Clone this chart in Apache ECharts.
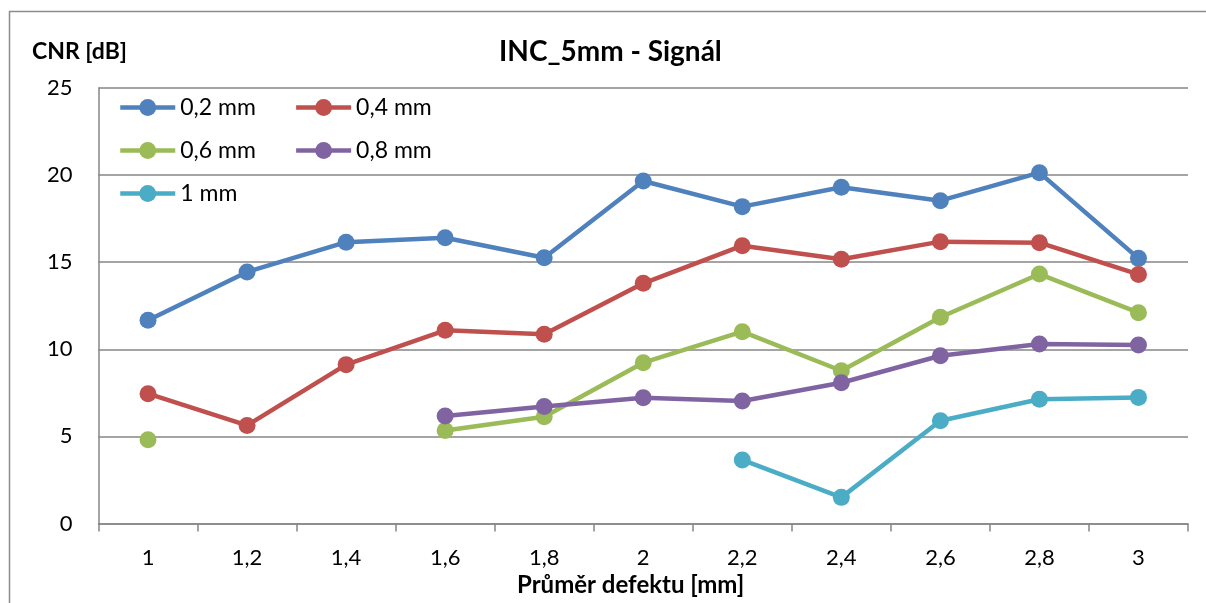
<!DOCTYPE html>
<html>
<head>
<meta charset="utf-8">
<script src="https://cdn.jsdelivr.net/npm/echarts@6/dist/echarts.min.js"></script>
<style>
  html, body { margin: 0; padding: 0; background: #ffffff; }
  #chart { width: 1206px; height: 603px; }
</style>
</head>
<body>
<div id="chart"></div>
<script>
// Defect diameters on the category axis
const categories = ['1', '1,2', '1,4', '1,6', '1,8', '2', '2,2', '2,4', '2,6', '2,8', '3'];

// CNR values [dB] per inclusion size; null = no measurement
const cnr02 = [11.67, 14.44, 16.15, 16.40, 15.26, 19.66, 18.19, 19.30, 18.53, 20.14, 15.22];
const cnr04 = [7.45, 5.63, 9.12, 11.09, 10.86, 13.79, 15.95, 15.17, 16.18, 16.12, 14.30];
const cnr06 = [4.81, null, null, 5.34, 6.13, 9.23, 11.01, 8.77, 11.84, 14.32, 12.10];
const cnr08 = [null, null, null, 6.17, 6.71, 7.22, 7.03, 8.08, 9.63, 10.30, 10.25];
const cnr10 = [null, null, null, null, null, null, 3.65, 1.50, 5.90, 7.13, 7.24];

const seriesNames = ['0,2 mm', '0,4 mm', '0,6 mm', '0,8 mm', '1 mm'];
const seriesData = [cnr02, cnr04, cnr06, cnr08, cnr10];
const colors = ['#4F81BD', '#C0504D', '#9BBB59', '#8064A2', '#4BACC6'];

const yTicks = [0, 5, 10, 15, 20, 25];

const FONT = 'Lato, "Open Sans", sans-serif';
const gridColor = '#868686';

const chart = echarts.init(document.getElementById('chart'), null, { renderer: 'canvas' });

function legendRow(names, top) {
  return {
    data: names,
    left: 113,
    top: top,
    orient: 'horizontal',
    itemWidth: 55,
    itemHeight: 21,
    itemGap: 38,
    lineStyle: { width: 4.5 },
    textStyle: { fontFamily: FONT, fontSize: 23, color: '#000' },
    inactiveColor: '#ccc'
  };
}

chart.setOption({
  animation: false,
  color: colors,
  title: [
    {
      text: 'INC_5mm - Signál',
      left: 494, top: 33,
      textStyle: { fontFamily: FONT, fontSize: 28, fontWeight: 'bold', color: '#000' }
    },
    {
      text: 'CNR [dB]',
      left: 27, top: 35,
      textStyle: { fontFamily: FONT, fontSize: 23, fontWeight: 'bold', color: '#000' }
    },
    {
      text: 'Průměr defektu [mm]',
      left: 512, top: 568,
      textStyle: { fontFamily: FONT, fontSize: 24, fontWeight: 'bold', color: '#000' }
    }
  ],
  legend: [
    legendRow(['0,2 mm', '0,4 mm'], 91),
    legendRow(['0,6 mm', '0,8 mm'], 134),
    legendRow(['1 mm'], 177)
  ],
  graphic: [
    {
      type: 'rect',
      silent: true,
      shape: { x: 9.5, y: 11.5, width: 1400, height: 800 },
      style: { fill: 'none', stroke: '#8c8c8c', lineWidth: 1.5 }
    }
  ],
  grid: { left: 98.5, right: 18, top: 88, bottom: 79.5, containLabel: false },
  xAxis: {
    type: 'category',
    data: categories,
    boundaryGap: true,
    axisLine: { lineStyle: { color: gridColor, width: 1.5 } },
    axisTick: { show: true, inside: false, length: 8, lineStyle: { color: gridColor, width: 1.5 } },
    axisLabel: { fontFamily: FONT, fontSize: 22, color: '#000', margin: 23 },
    splitLine: { show: false }
  },
  yAxis: {
    type: 'value',
    min: yTicks[0],
    max: yTicks[yTicks.length - 1],
    interval: 5,
    axisLine: { show: true, lineStyle: { color: gridColor, width: 1.5 } },
    axisTick: { show: false },
    axisLabel: { fontFamily: FONT, fontSize: 22, color: '#000', margin: 26 },
    splitLine: { show: true, lineStyle: { color: gridColor, width: 1.5 } }
  },
  series: seriesNames.map((name, i) => ({
    name: name,
    type: 'line',
    data: seriesData[i],
    connectNulls: false,
    symbol: 'circle',
    symbolSize: 17,
    showSymbol: true,
    lineStyle: { width: 4.5, color: colors[i] },
    itemStyle: { color: colors[i] },
    emphasis: { disabled: true }
  }))
});
</script>
</body>
</html>
